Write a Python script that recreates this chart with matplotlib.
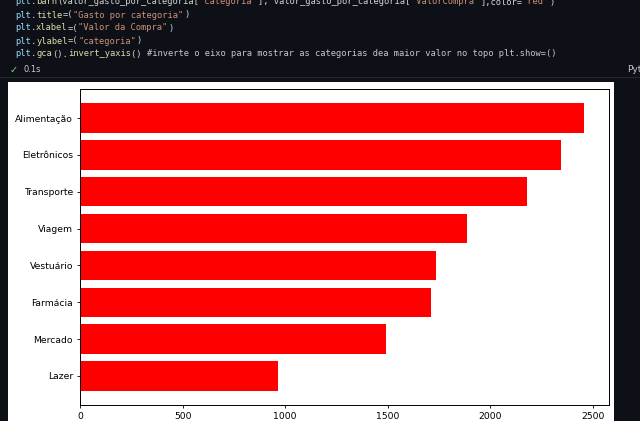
import matplotlib.pyplot as plt
from matplotlib.patches import Rectangle
from matplotlib.lines import Line2D

categorias = ["Alimentação", "Eletrônicos", "Transporte", "Viagem",
              "Vestuário", "Farmácia", "Mercado", "Lazer"]
valor_compra = [2456, 2344, 2178, 1889, 1737, 1711, 1490, 966]

W, H = 640, 421
fig = plt.figure(figsize=(W / 100, H / 100), dpi=100)
fig.patch.set_facecolor("#0d1016")


def px(x, y):
    # pixel coords (from top-left) -> figure fraction
    return x / W, 1 - y / H


# code cell text (monospace, coloured like a dark editor theme)
CW = 5.29
code_lines = [
    (2, [("plt", "#9cdcfe"), (".", "#d4d4d4"), ("barh", "#dcdcaa"),
         ("(valor_gasto_por_categoria[", "#d4d4d4"), ("'categoria'", "#ce9178"),
         ("], valor_gasto_por_categoria[", "#d4d4d4"), ("'ValorCompra'", "#ce9178"),
         ("],color=", "#d4d4d4"), ("'red'", "#ce9178"), (")", "#d4d4d4")]),
    (15, [("plt", "#9cdcfe"), (".", "#d4d4d4"), ("title", "#dcdcaa"),
          ("=(", "#d4d4d4"), ('"Gasto por categoria"', "#ce9178"), (")", "#d4d4d4")]),
    (28, [("plt", "#9cdcfe"), (".", "#d4d4d4"), ("xlabel", "#dcdcaa"),
          ("=(", "#d4d4d4"), ('"Valor da Compra"', "#ce9178"), (")", "#d4d4d4")]),
    (41, [("plt", "#9cdcfe"), (".", "#d4d4d4"), ("ylabel", "#dcdcaa"),
          ("=(", "#d4d4d4"), ('"categoria"', "#ce9178"), (")", "#d4d4d4")]),
    (54, [("plt", "#9cdcfe"), (".", "#d4d4d4"), ("gca", "#dcdcaa"),
          ("().", "#d4d4d4"), ("invert_yaxis", "#dcdcaa"), ("() ", "#d4d4d4"),
          ("#inverte o eixo para mostrar as categorias dea maior valor no topo plt.show=()",
           "#c8c8c8")]),
]
for y, parts in code_lines:
    n = 0
    for txt, col in parts:
        fx, fy = px(15 + n * CW, y)
        fig.text(fx, fy, txt, color=col, family="DejaVu Sans Mono",
                 fontsize=6.3, va="center", ha="left")
        n += len(txt)

fx, fy = px(10, 70)
fig.text(fx, fy, "✓", color="#89d185", fontsize=7, va="center")
fx, fy = px(24, 70)
fig.text(fx, fy, "0.1s", color="#c8c8c8", fontsize=6, va="center")
fx, fy = px(627, 70)
fig.text(fx, fy, "Python", color="#c8c8c8", fontsize=6.5, va="center")

fig.add_artist(Line2D([0, 1], [1 - 77 / H] * 2, color="#23262d", lw=0.8))

# white output area
x0, y0 = px(8, 421)
x1, y1 = px(614, 82)
fig.add_artist(Rectangle((x0, y0), x1 - x0, y1 - y0, transform=fig.transFigure,
                         facecolor="white", edgecolor="none", zorder=0))

ax = fig.add_axes([80 / W, (H - 405) / H, 529 / W, 316 / H])
ax.barh(categorias, valor_compra, color="red")
ax.invert_yaxis()
ax.set_xticks([0, 500, 1000, 1500, 2000, 2500])
ax.tick_params(labelsize=6.7, length=2.5, width=0.6, pad=2.5)
for s in ax.spines.values():
    s.set_linewidth(0.7)

fig.savefig("out.png", dpi=100, facecolor=fig.get_facecolor())
